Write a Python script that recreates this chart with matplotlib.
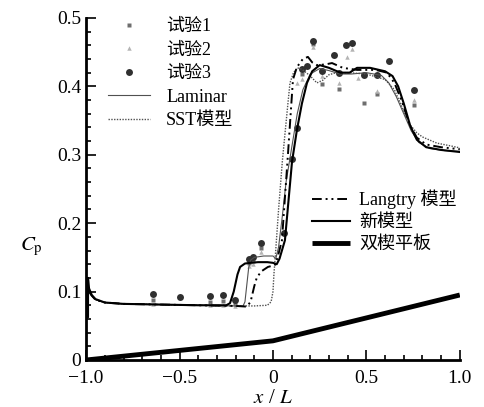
import matplotlib
matplotlib.use("Agg")
import matplotlib.pyplot as plt
from matplotlib.ticker import MultipleLocator

plt.rcParams['font.family'] = ['Liberation Serif', 'Noto Sans CJK SC']
plt.rcParams['mathtext.fontset'] = 'stix'

# experimental data
x_exp1 = [-0.642, -0.337, -0.267, -0.203, -0.128, -0.107, -0.064, 0.155, 0.214, 0.262, 0.353, 0.487, 0.556, 0.754]
cp_exp1 = [0.087, 0.085, 0.086, 0.083, 0.142, 0.145, 0.163, 0.418, 0.462, 0.404, 0.396, 0.375, 0.389, 0.373]

x_exp2 = [-0.642, -0.337, -0.267, -0.203, -0.128, -0.107, -0.064, 0.128, 0.155, 0.214, 0.262, 0.353, 0.396, 0.422, 0.455, 0.556, 0.754]
cp_exp2 = [0.082, 0.080, 0.081, 0.079, 0.138, 0.140, 0.158, 0.405, 0.411, 0.458, 0.415, 0.405, 0.443, 0.454, 0.412, 0.393, 0.380]

x_exp3 = [-0.642, -0.50, -0.337, -0.267, -0.203, -0.128, -0.107, -0.064, 0.059, 0.102, 0.128, 0.155, 0.180,
          0.214, 0.262, 0.326, 0.353, 0.39, 0.422, 0.487, 0.556, 0.62, 0.754]
cp_exp3 = [0.096, 0.092, 0.093, 0.095, 0.087, 0.148, 0.151, 0.171, 0.186, 0.294, 0.339, 0.425, 0.430,
           0.466, 0.423, 0.446, 0.420, 0.460, 0.463, 0.417, 0.417, 0.437, 0.395]

# computations
x_lam = [-0.985, -0.97, -0.95, -0.9, -0.8, -0.6, -0.4, -0.2, -0.16, -0.15, -0.14, -0.13, -0.12, -0.1, -0.05,
         0.0, 0.015, 0.03, 0.05, 0.07, 0.1, 0.13, 0.16, 0.2, 0.25, 0.3, 0.36, 0.42, 0.5, 0.58, 0.62, 0.66,
         0.7, 0.74, 0.78, 0.84, 0.92, 1.0]
cp_lam = [0.10, 0.094, 0.088, 0.084, 0.082, 0.081, 0.080, 0.079, 0.079, 0.085, 0.11, 0.135, 0.146, 0.150, 0.152,
          0.152, 0.148, 0.165, 0.21, 0.26, 0.31, 0.36, 0.395, 0.418, 0.426, 0.423, 0.418, 0.418, 0.42, 0.416, 0.405, 0.385,
          0.36, 0.335, 0.318, 0.309, 0.306, 0.305]

x_sst = [-0.985, -0.97, -0.95, -0.9, -0.8, -0.6, -0.4, -0.2, -0.1, -0.03, -0.01, 0.0, 0.005, 0.011, 0.03, 0.05,
         0.064, 0.08, 0.091, 0.11, 0.13, 0.155, 0.2, 0.235, 0.267, 0.3, 0.34, 0.4, 0.5, 0.6, 0.65, 0.69, 0.73,
         0.77, 0.8, 0.877, 0.95, 1.0]
cp_sst = [0.10, 0.094, 0.088, 0.084, 0.082, 0.081, 0.080, 0.079, 0.079, 0.080, 0.085, 0.10, 0.125, 0.146, 0.22, 0.29,
          0.33, 0.375, 0.405, 0.42, 0.427, 0.425, 0.415, 0.405, 0.409, 0.417, 0.42, 0.42, 0.418, 0.41, 0.395, 0.37, 0.345,
          0.332, 0.326, 0.317, 0.313, 0.31]

x_lt = [-0.985, -0.97, -0.95, -0.9, -0.8, -0.6, -0.4, -0.2, -0.14, -0.12, -0.1, -0.086, -0.06, -0.027, 0.0, 0.011,
        0.025, 0.048, 0.08, 0.107, 0.128, 0.16, 0.187, 0.21, 0.235, 0.28, 0.316, 0.374, 0.45, 0.55, 0.61, 0.65,
        0.69, 0.73, 0.77, 0.82, 0.9, 1.0]
cp_lt = [0.10, 0.094, 0.088, 0.084, 0.082, 0.081, 0.080, 0.079, 0.078, 0.085, 0.108, 0.121, 0.130, 0.136, 0.138, 0.139,
         0.15, 0.175, 0.30, 0.41, 0.428, 0.44, 0.443, 0.435, 0.431, 0.432, 0.434, 0.427, 0.424, 0.424, 0.42, 0.405,
         0.378, 0.345, 0.325, 0.315, 0.311, 0.308]

x_new = [-0.99, -0.99, -0.985, -0.97, -0.95, -0.9, -0.8, -0.6, -0.4, -0.25, -0.23, -0.21, -0.19, -0.176, -0.15,
         -0.12, -0.08, -0.03, 0.0, 0.02, 0.035, 0.064, 0.102, 0.128, 0.155, 0.182, 0.21, 0.25, 0.3, 0.36, 0.41,
         0.45, 0.52, 0.6, 0.64, 0.67, 0.7, 0.735, 0.77, 0.82, 0.9, 1.0]
cp_new = [0.063, 0.12, 0.105, 0.095, 0.089, 0.084, 0.082, 0.081, 0.080, 0.080, 0.083, 0.100, 0.125, 0.136, 0.141,
          0.142, 0.143, 0.143, 0.142, 0.140, 0.148, 0.175, 0.29, 0.336, 0.375, 0.405, 0.422, 0.431, 0.427, 0.420, 0.420,
          0.427, 0.427, 0.422, 0.415, 0.400, 0.375, 0.342, 0.322, 0.311, 0.307, 0.304]

# double wedge plate geometry
x_wedge = [-1.0, 0.0, 1.0]
y_wedge = [0.0, 0.028, 0.095]

fig = plt.figure(figsize=(4.84, 4.07), dpi=100)
ax = fig.add_axes([0.178, 0.1155, 0.772, 0.8405])

h1, = ax.plot(x_exp1, cp_exp1, ls='none', marker='s', ms=3.2, color='#6e6e6e', mec='none', label='试验1')
h2, = ax.plot(x_exp2, cp_exp2, ls='none', marker='^', ms=3.2, color='#b4b4b4', mec='none', label='试验2')
h3, = ax.plot(x_exp3, cp_exp3, ls='none', marker='o', ms=5, color='#303030', mec='none', label='试验3')
h4, = ax.plot(x_lam, cp_lam, color='#505050', lw=0.8, label='Laminar')
h5, = ax.plot(x_sst, cp_sst, color='#505050', lw=1.0, ls=(0, (1, 1)), label='SST模型')
h6, = ax.plot(x_lt, cp_lt, color='black', lw=1.4, ls=(0, (5, 2, 1, 2, 1, 2)), label='Langtry 模型')
h7, = ax.plot(x_new, cp_new, color='black', lw=1.5, label='新模型')
h8, = ax.plot(x_wedge, y_wedge, color='black', lw=3.5, solid_capstyle='butt', label='双楔平板')

ax.set_xlim(-1.0, 1.0)
ax.set_ylim(0, 0.5)
ax.xaxis.set_major_locator(MultipleLocator(0.5))
ax.xaxis.set_minor_locator(MultipleLocator(0.1))
ax.yaxis.set_major_locator(MultipleLocator(0.1))
ax.yaxis.set_minor_locator(MultipleLocator(0.02))
ax.xaxis.set_major_formatter(lambda v, p: '0' if abs(v) < 1e-9 else f'{v:.1f}'.replace('-', '\u2212'))
ax.yaxis.set_major_formatter(lambda v, p: '0' if abs(v) < 1e-9 else f'{v:.1f}')
ax.tick_params(which='both', direction='in', width=1.2, labelsize=14, top=False, right=False)
ax.tick_params(which='major', length=7)
ax.tick_params(which='minor', length=3.5)
ax.tick_params(axis='x', which='major', pad=7.5)
ax.spines['top'].set_visible(False)
ax.spines['right'].set_visible(False)
ax.spines['left'].set_linewidth(2)
ax.spines['bottom'].set_linewidth(2)

ax.set_xlabel('$x$ / $L$', fontsize=15, labelpad=1)
ax.set_ylabel('$C_{\\mathrm{p}}$', fontsize=15, rotation=0, va='center')
ax.yaxis.set_label_coords(-0.147, 0.33)

leg1 = ax.legend(handles=[h1, h2, h3, h4, h5], loc='upper left', bbox_to_anchor=(0.04, 1.02),
                 frameon=False, fontsize=13, numpoints=1, handlelength=2.3, handletextpad=0.9,
                 labelspacing=0.36, borderaxespad=0)
ax.add_artist(leg1)
ax.legend(handles=[h6, h7, h8], loc='upper left', bbox_to_anchor=(0.585, 0.52),
          frameon=False, fontsize=13, handlelength=2.1, handletextpad=0.5,
          labelspacing=0.28, borderaxespad=0)

plt.savefig('out.png', dpi=100)
